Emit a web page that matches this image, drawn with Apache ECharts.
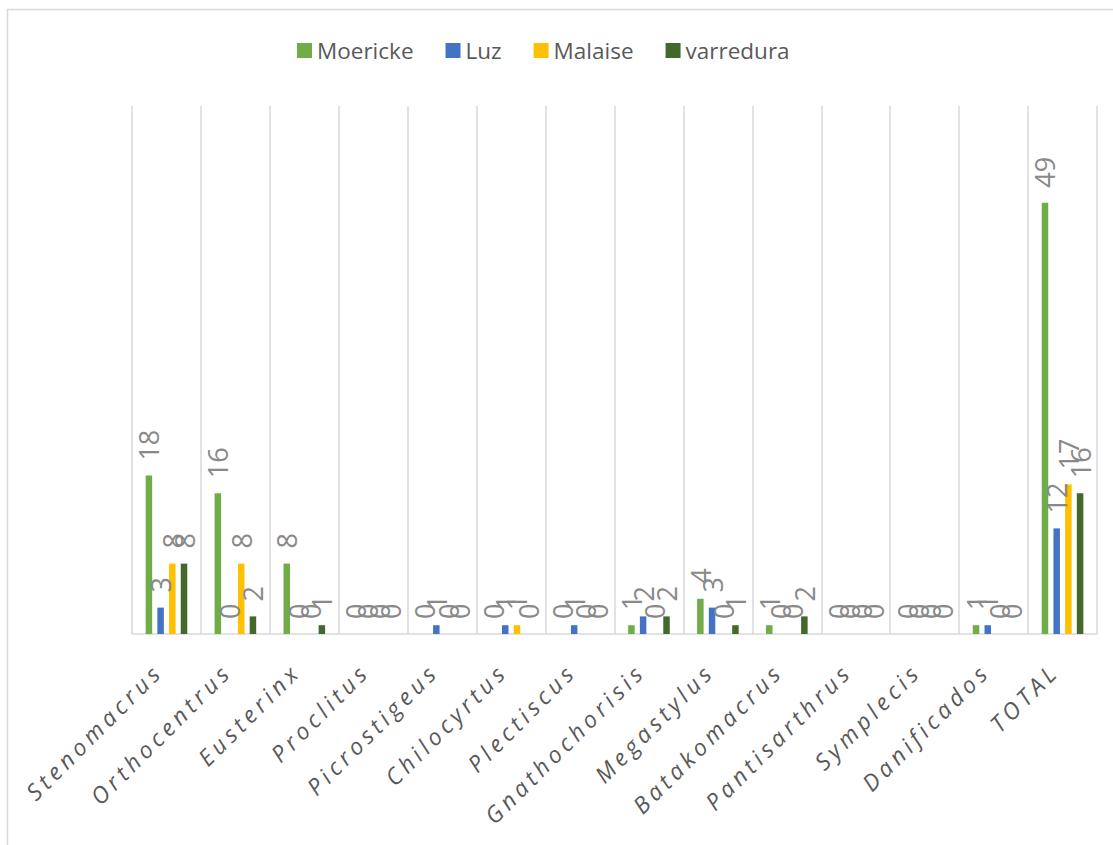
<!DOCTYPE html>
<html>
<head>
<meta charset="utf-8">
<script src="https://cdn.jsdelivr.net/npm/echarts@6/dist/echarts.min.js"></script>
<style>
  html, body { margin: 0; padding: 0; background: #ffffff; }
  #chart { width: 1113px; height: 845px; }
</style>
</head>
<body>
<div id="chart"></div>
<script>
// Genera (categories) and capture counts per trapping method
const genera = ['Stenomacrus', 'Orthocentrus', 'Eusterinx', 'Proclitus', 'Picrostigeus',
  'Chilocyrtus', 'Plectiscus', 'Gnathochorisis', 'Megastylus', 'Batakomacrus',
  'Pantisarthrus', 'Symplecis', 'Danificados', 'TOTAL'];
const moericke  = [18, 16, 8, 0, 0, 0, 0, 1, 4, 1, 0, 0, 1, 49];
const luz       = [3, 0, 0, 0, 1, 1, 1, 2, 3, 0, 0, 0, 1, 12];
const malaise   = [8, 8, 0, 0, 0, 1, 0, 0, 0, 0, 0, 0, 0, 17];
const varredura = [8, 2, 1, 0, 0, 0, 0, 2, 1, 2, 0, 0, 0, 16];

const seriesNames  = ['Moericke', 'Luz', 'Malaise', 'varredura'];
const seriesData   = [moericke, luz, malaise, varredura];
const seriesColors = ['#70AD47', '#4472C4', '#FFC000', '#43682B'];

const chart = echarts.init(document.getElementById('chart'), null, { renderer: 'svg' });

const barLabel = {
  show: true,
  position: 'top',
  rotate: 90,
  align: 'left',
  verticalAlign: 'middle',
  distance: 15,
  fontFamily: 'Open Sans',
  fontSize: 27,
  color: '#898989'
};

const option = {
  backgroundColor: '#ffffff',
  animation: false,
  graphic: [{
    type: 'rect',
    shape: { x: 7.5, y: 9.5, width: 1200, height: 900 },
    style: { fill: 'none', stroke: '#d9d9d9', lineWidth: 1.5 },
    silent: true
  }],
  legend: {
    left: 297,
    top: 39,
    padding: 0,
    itemWidth: 15,
    itemHeight: 15,
    itemGap: 32,
    icon: 'rect',
    textStyle: { fontFamily: 'Open Sans', fontSize: 22.5, color: '#595959' },
    data: seriesNames
  },
  grid: { left: 132, right: 16, top: 106, bottom: 211, containLabel: false },
  xAxis: {
    type: 'category',
    data: genera,
    boundaryGap: true,
    axisLine: { show: true, lineStyle: { color: '#d9d9d9', width: 1.5 } },
    axisTick: { show: false },
    splitLine: { show: true, interval: 0, lineStyle: { color: '#d9d9d9', width: 1.5 } },
    axisLabel: {
      interval: 0,
      rotate: 45,
      margin: 41,
      verticalAlign: 'bottom',
      fontFamily: 'Open Sans',
      fontStyle: 'italic',
      fontSize: 23,
      color: '#595959'
    }
  },
  yAxis: {
    type: 'value',
    min: 0,
    max: 60,
    show: false,
    splitLine: { show: false }
  },
  series: seriesNames.map((name, i) => ({
    name: name,
    type: 'bar',
    data: seriesData[i],
    barWidth: 6.5,
    barGap: '80%',
    itemStyle: { color: seriesColors[i] },
    label: barLabel
  }))
};

chart.setOption(option);

// Genus names are set with extra tracking
document.querySelectorAll('#chart svg text').forEach(t => {
  if (genera.includes(t.textContent.trim())) t.style.letterSpacing = '4.5px';
});
</script>
</body>
</html>
